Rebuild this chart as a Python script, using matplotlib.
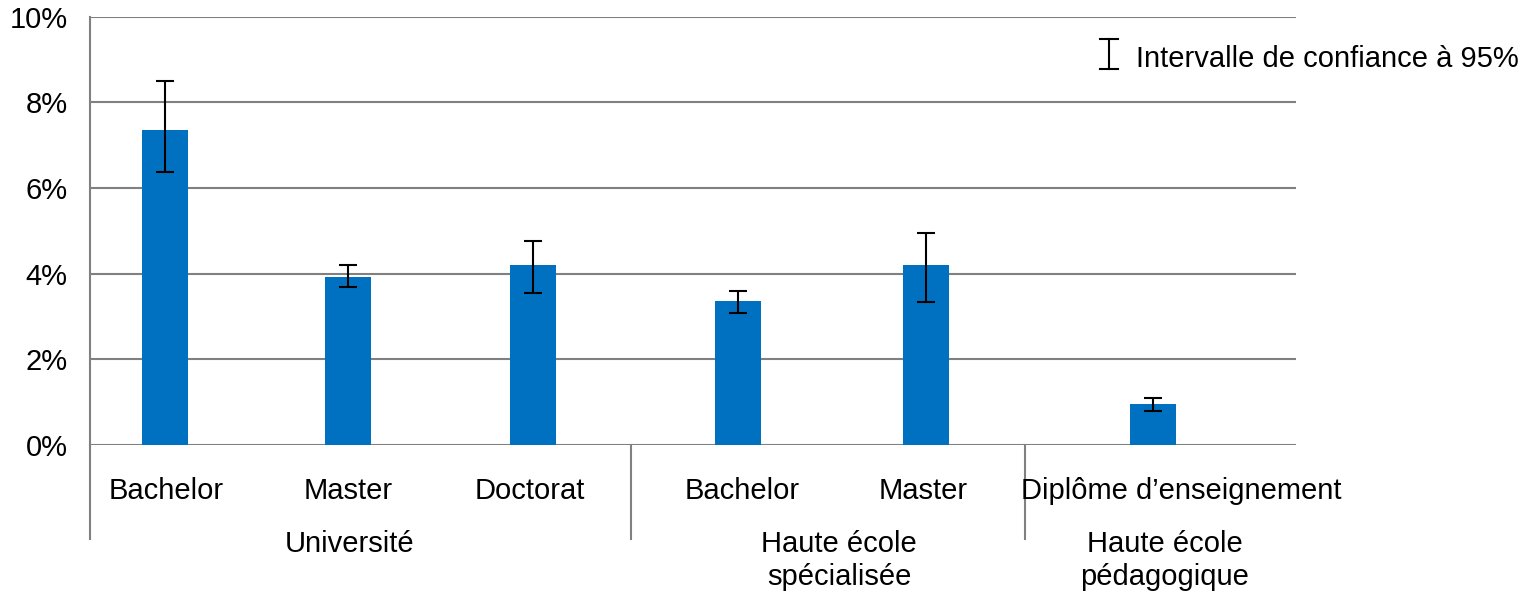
import matplotlib.pyplot as plt
from matplotlib.lines import Line2D

plt.rcParams['font.family'] = ['Liberation Sans', 'DejaVu Sans']

# data (percent)
categories = ["Bachelor", "Master", "Doctorat", "Bachelor", "Master", "Diplôme d\u2019enseignement"]
values = [7.35, 3.92, 4.20, 3.36, 4.20, 0.96]
ci_low = [6.37, 3.69, 3.55, 3.09, 3.34, 0.79]
ci_high = [8.51, 4.20, 4.77, 3.60, 4.95, 1.10]
groups = [["Université"], ["Haute école", "spécialisée"], ["Haute école", "pédagogique"]]
yticks = [0, 2, 4, 6, 8, 10]

# layout (x units = 100 px)
bar_x = [0.75, 2.58, 4.43, 6.48, 8.36, 10.63]
label_x = [0.76, 2.58, 4.40, 6.52, 8.33, 10.91]
group_x = [2.60, 7.49, 10.75]
sep_x = [0, 5.41, 9.35]

W, H = 1536, 596
ax_left, ax_right, ax_top, ax_bot = 90, 1296, 16.7, 445
ax_h = ax_bot - ax_top
fs = 21

fig = plt.figure(figsize=(W / 100, H / 100), dpi=100)
ax = fig.add_axes([ax_left / W, 1 - ax_bot / H, (ax_right - ax_left) / W, ax_h / H])

err = [[v - lo for v, lo in zip(values, ci_low)], [hi - v for v, hi in zip(values, ci_high)]]
ax.bar(bar_x, values, width=0.46, color='#0070C0', zorder=3)
ax.errorbar(bar_x, values, yerr=err, fmt='none', ecolor='black', elinewidth=1.5,
            capsize=6.5, capthick=1.5, zorder=4)

ax.set_xlim(0, (ax_right - ax_left) / 100)
ax.set_ylim(0, 10)
ax.set_yticks(yticks)
ax.set_yticklabels([f"{t}%" for t in yticks])
ax.tick_params(axis='y', length=0, pad=16, labelsize=fs)
ax.set_xticks([])
ax.grid(axis='y', color='#808080', linewidth=1.5, zorder=0)
for s in ['top', 'right', 'bottom']:
    ax.spines[s].set_visible(False)
ax.spines['left'].set_color('#808080')
ax.spines['left'].set_linewidth(1.5)

tr = ax.get_xaxis_transform()


def yfrac(py):
    return (ax_bot - py) / ax_h


for x in sep_x:
    ax.plot([x, x], [0, yfrac(539)], transform=tr, color='#808080', lw=1.5, clip_on=False)

for x, lab in zip(label_x, categories):
    ax.text(x, yfrac(499), lab, transform=tr, ha='center', va='baseline', fontsize=fs)

for x, lines in zip(group_x, groups):
    for i, line in enumerate(lines):
        ax.text(x, yfrac(552 + 33 * i), line, transform=tr, ha='center', va='baseline', fontsize=fs)

# legend glyph
gx, gy0, gy1 = 1109, 39, 69
fig.add_artist(Line2D([gx / W, gx / W], [1 - gy0 / H, 1 - gy1 / H], color='black', lw=1.5))
for gy in (gy0, gy1):
    fig.add_artist(Line2D([(gx - 9) / W, (gx + 9) / W], [1 - gy / H, 1 - gy / H], color='black', lw=1.5))
fig.text(1136 / W, 1 - 67 / H, "Intervalle de confiance à 95%", fontsize=fs, va='baseline', ha='left')

fig.savefig('out.png', dpi=100)
